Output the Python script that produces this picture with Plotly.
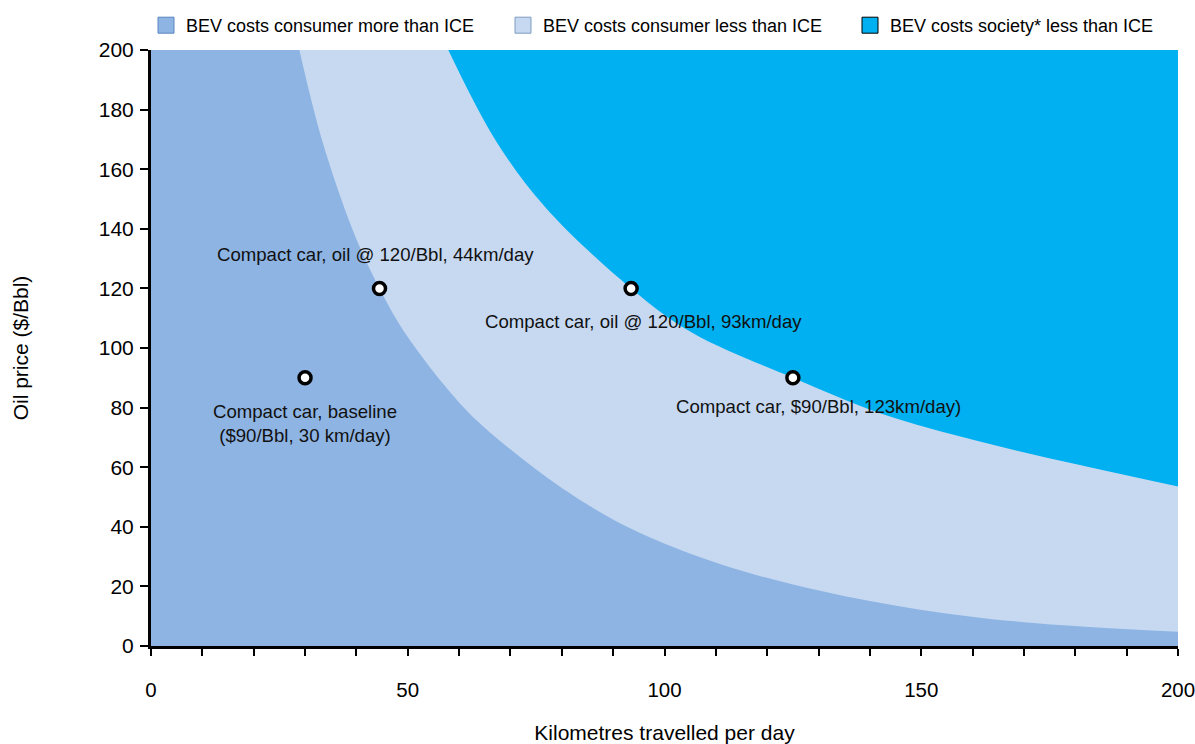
import plotly.graph_objects as go

# Boundary: BEV costs consumer more / less than ICE
km_consumer = [28.9, 33.2, 39.5, 44.5, 50.0, 61.0, 69.0, 80.0, 93.3, 110.8, 130.3, 149.8, 170.0, 200.0]
oil_consumer = [200.0, 170.4, 138.7, 120.0, 103.7, 79.9, 67.4, 53.0, 39.5, 27.5, 18.5, 12.2, 8.0, 4.8]

# Boundary: BEV costs society less than ICE
km_society = [57.9, 67.0, 76.7, 93.5, 105.5, 125.0, 142.0, 161.4, 180.9, 200.0]
oil_society = [200.0, 170.0, 147.4, 120.0, 105.0, 90.0, 78.1, 68.6, 60.7, 53.5]

# Scenario points
point_km = [30, 44.5, 93.5, 125]
point_oil = [90, 120, 120, 90]
point_labels = [
    "Compact car, baseline<br>($90/Bbl, 30 km/day)",
    "Compact car, oil @ 120/Bbl, 44km/day",
    "Compact car, oil @ 120/Bbl, 93km/day",
    "Compact car, $90/Bbl, 123km/day)",
]

legend_names = [
    "BEV costs consumer more than ICE",
    "BEV costs consumer less than ICE",
    "BEV costs society* less than ICE",
]

x_ticks = [0, 50, 100, 150, 200]
y_ticks = [0, 20, 40, 60, 80, 100, 120, 140, 160, 180, 200]
X_RANGE = [0, 200]
Y_RANGE = [0, 200]

C_DARK = "#8EB4E3"
C_LIGHT = "#C6D9F1"
C_CYAN = "#00B0F0"
FONT = "Liberation Sans, Arial, sans-serif"

fig = go.Figure()


def add_region_above(xs, ys, color):
    # top edge of the chart from where the boundary enters, to the right end
    fig.add_trace(go.Scatter(x=[xs[0], X_RANGE[1]], y=[Y_RANGE[1], Y_RANGE[1]], mode="lines",
                             line=dict(width=0, color=color), showlegend=False, hoverinfo="skip"))
    # the curved boundary, filled up to the top edge
    fig.add_trace(go.Scatter(x=xs, y=ys, mode="lines", fill="tonexty",
                             fillcolor=color, line=dict(width=0, shape="spline", color=color),
                             showlegend=False, hoverinfo="skip"))


# dark region is the plot background; light above the consumer boundary; cyan above society boundary
add_region_above(km_consumer, oil_consumer, C_LIGHT)
add_region_above(km_society, oil_society, C_CYAN)

# scenario markers
fig.add_trace(go.Scatter(x=point_km, y=point_oil, mode="markers",
                         marker=dict(symbol="circle", size=12, color="white",
                                     line=dict(color="black", width=3.5)),
                         showlegend=False, hoverinfo="skip"))

# legend entries (three separate legends for precise placement)
leg_fill = [C_DARK, C_LIGHT, C_CYAN]
leg_line = ["#5B86C0", "#7F9CC0", "#000000"]
leg_ids = ["legend", "legend2", "legend3"]
leg_px = [146, 503, 850]

W, H = 1195, 744
L, R, T, B = 151, 17, 50, 98
pw = W - L - R
ph = H - T - B

for name, fc, lc, lid in zip(legend_names, leg_fill, leg_line, leg_ids):
    fig.add_trace(go.Scatter(x=[None], y=[None], mode="markers", name=name,
                             marker=dict(symbol="square", size=20, color=fc,
                                         line=dict(color=lc, width=1)),
                             legend=lid))

for lid, px in zip(leg_ids, leg_px):
    fig.update_layout({lid: dict(x=(px - L) / pw, xanchor="left", y=1 + 43 / ph,
                                 yanchor="top", orientation="h", bgcolor="rgba(0,0,0,0)",
                                 font=dict(family=FONT, size=18, color="#000000"))})

# annotations
shifts = [(0, -46), (-4, 34), (12, -33), (26, -29)]
for xk, yo, txt, (dx, dy) in zip(point_km, point_oil, point_labels, shifts):
    fig.add_annotation(x=xk, y=yo, text=txt, showarrow=False, xshift=dx, yshift=dy,
                       font=dict(family=FONT, size=18.6, color="#111111"),
                       xanchor="center", yanchor="middle")

fig.update_layout(
    width=W, height=H,
    margin=dict(l=L, r=R, t=T, b=B, autoexpand=False),
    paper_bgcolor="white",
    plot_bgcolor=C_DARK,
    font=dict(family=FONT, size=21, color="#000000"),
    xaxis=dict(range=X_RANGE, tickvals=x_ticks, ticks="outside", ticklen=7, tickwidth=1.5,
               tickcolor="black", showgrid=False, zeroline=False, showline=True,
               linecolor="black", linewidth=3, ticklabelstandoff=16, ticklabeloverflow="allow",
               minor=dict(dtick=10, ticks="outside", ticklen=7, tickwidth=1.5, tickcolor="black",
                          showgrid=False),
               tickfont=dict(family=FONT, size=20.5),
               title=dict(text="Kilometres travelled per day", standoff=26,
                          font=dict(family=FONT, size=21))),
    yaxis=dict(range=Y_RANGE, tickvals=y_ticks, ticks="outside", ticklen=8, tickwidth=1.5,
               tickcolor="black", showgrid=False, zeroline=False, showline=True,
               linecolor="black", linewidth=3, ticklabelstandoff=2, ticklabeloverflow="allow",
               tickfont=dict(family=FONT, size=21),
               title=dict(text="Oil price ($/Bbl)", standoff=65,
                          font=dict(family=FONT, size=21))),
)

# remove the default page margin so the 1195x744 figure fills the window exactly
fig.write_html(
    "out.html",
    config={"displayModeBar": False},
    post_script=(
        "document.body.style.margin='0';"
        "document.documentElement.style.overflow='hidden';"
        "document.body.style.overflow='hidden';"
    ),
)
